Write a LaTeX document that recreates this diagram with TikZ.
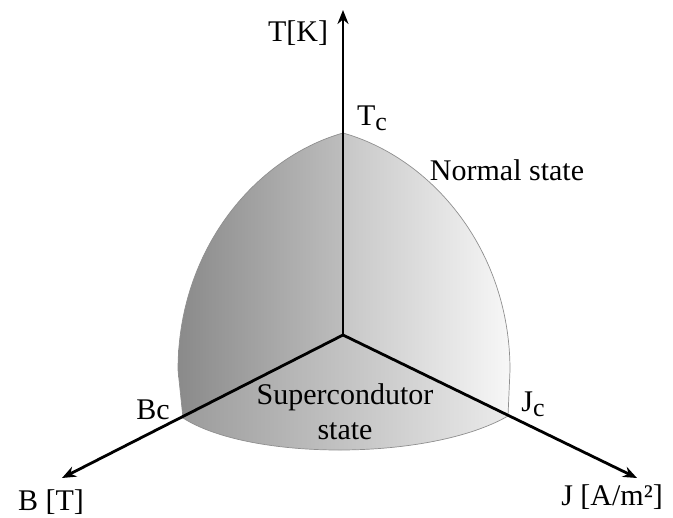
\documentclass[tikz,border=0pt]{standalone}
\usepackage{fontspec}
\setmainfont{Liberation Serif}
\usepackage{tikz}
\usetikzlibrary{arrows.meta,positioning}
\definecolor{facedark}{HTML}{8a8a8a}
\definecolor{facemid}{HTML}{bdbdbd}
\definecolor{facelight}{HTML}{f7f7f7}
\definecolor{rim}{HTML}{8f8f8f}
\newcommand{\lowc}{\raisebox{-0.35ex}{\fontsize{13}{13}\selectfont c}}

\begin{document}
\begin{tikzpicture}[x=0.5pt, y=-0.5pt, every node/.style={font=\fontsize{15}{17.5}\selectfont, align=center, inner sep=0pt},
  axis/.style={line width=1.4pt, -{Stealth[length=7pt, width=5.5pt]}},
  face/.style={draw=rim, line width=0.35pt}]
\useasboundingbox (0,0) rectangle (673,518);
\coordinate (origin) at (343,335);
\coordinate (tcpt) at (343,133);
\coordinate (bcpt) at (183,418);
\coordinate (jcpt) at (508,416);
\coordinate (ttip) at (343,10);
\coordinate (btip) at (62,478);
\coordinate (jtip) at (637,478);
\path[face, left color=facedark, right color=facemid] (origin) -- (tcpt) .. controls (255,158) and (178,250) .. (178,370) -- (bcpt) -- cycle;
\path[face, left color=facemid!85, right color=facelight] (origin) -- (tcpt) .. controls (432,158) and (510,250) .. (510,370) -- (jcpt) -- cycle;
\path[face, left color=facedark!85, right color=facelight!95!black] (origin) -- (bcpt) .. controls (250,461) and (430,461) .. (jcpt) -- cycle;
\draw[axis] (origin) -- (ttip);
\draw[axis] (origin) -- (btip);
\draw[axis] (origin) -- (jtip);
\node (tlabel) at (298,33) {T[K]};
\node (tclabel) at (372,118) {T\lowc};
\node (normal) at (507,170) {Normal state};
\node (superc) at (345,412) {Supercondutor\\state};
\node (bclabel) at (153,410) {Bc};
\node (jclabel) at (533,404) {J\lowc};
\node (blabel) at (51,502) {B [T]};
\node (jlabel) at (612,497) {J [A/m²]};
\end{tikzpicture}
\end{document}
